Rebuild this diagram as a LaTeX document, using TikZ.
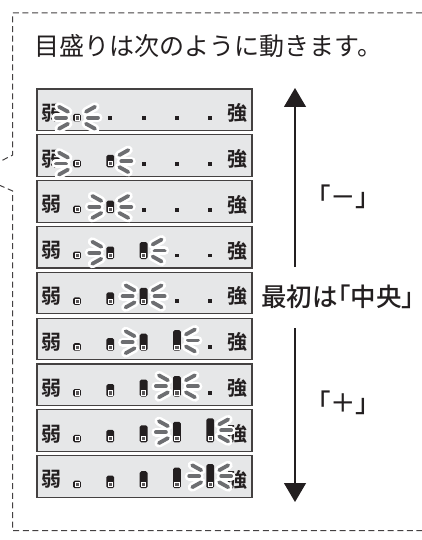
\documentclass[tikz,border=0pt]{standalone}
\usepackage{fontspec}
\setmainfont{Noto Sans CJK JP}
\newfontfamily\jpbold{Noto Sans CJK JP Bold}
\newfontfamily\jpmed[RawFeature=+palt]{Noto Sans CJK JP Medium}
\usetikzlibrary{arrows.meta, positioning}
\definecolor{ink}{HTML}{231F20}
\definecolor{panelgray}{HTML}{E6E7E8}
\definecolor{raygray}{HTML}{6D6E71}
\def\mh{{7.5,12.5,17,20.5,24}}
% one side of the flashing rays: style, x, y, side (-1 left, 1 right)
\newcommand{\flashside}[4]{%
  \foreach \a/\c/\d/\e in {11/0/21/0, 9/-6/18/-11, 9/6/18/11}
    \draw[#1] ({#2+(#4)*\a},{#3+\c}) -- ({#2+(#4)*\d},{#3+\e});}

\begin{document}
\begin{tikzpicture}[x=1pt, y=-1pt, >={Triangle[width=22pt, length=19pt]},
  panel/.style={draw=ink!85, line width=1.1pt, fill=panelgray, minimum width=215pt, minimum height=41.5pt, inner sep=0pt},
  lvl/.style={text=ink, font=\jpbold\fontsize{20}{20}\selectfont, inner sep=0pt},
  lbl/.style={text=ink, font=\jpmed\fontsize{25.5}{25.5}\selectfont, inner sep=0pt, anchor=west},
  bar/.style={fill=ink, rounded corners=1.6pt},
  halo/.style={white, line width=9pt, line cap=round},
  ray/.style={raygray, line width=3.8pt, line cap=round},
  frame/.style={ink!85, line width=1pt, dash pattern=on 6pt off 3.6pt}]
\useasboundingbox (0,0) rectangle (422,540);
\draw[frame] (422,13) -- (12.7,13) -- (12.7,155) -- (-1,162);
\draw[frame] (-1,185) -- (12.7,191) -- (12.7,530.7) -- (422,530.7);
\node[lbl, font=\fontsize{25}{25}\selectfont] (title) at (34.5,46) {目盛りは次のように動きます。};
% rows: row / lit bars / left flash position (right flash = lit bars)
\foreach \k/\n/\l in {1/1/1, 2/2/1, 3/2/2, 4/3/2, 5/3/3, 6/4/3, 7/4/4, 8/5/4, 9/5/5} {
  \pgfmathsetmacro\t{89+(\k-1)*45.84}
  \pgfmathsetmacro\b{\t+32.5}
  \node[panel] (p\k) at (144.5,\t+20.75) {};
  \node[lvl] (weak\k) at (51.5,\t+24) {弱};
  \node[lvl] (strong\k) at (237.5,\t+24) {強};
  \foreach \j in {1,...,5} {
    \pgfmathsetmacro\x{77+(\j-1)*33.3}
    \pgfmathsetmacro\h{\mh[\j-1]}
    \ifnum\j>\n
      \fill[ink] (\x-1.9,\b-1.6) rectangle (\x+1.9,\b-5.4);
    \else
      \fill[bar] (\x-3.9,\b) rectangle (\x+3.9,\b-\h);
      \filldraw[draw=white, line width=0.75pt, fill=ink!75] (\x-2.1,\b-1.6) rectangle (\x+2.1,\b-5.8);
    \fi
  }
  \pgfmathsetmacro\xl{77+(\l-1)*33.3}
  \pgfmathsetmacro\yl{\b-\mh[\l-1]/2}
  \pgfmathsetmacro\xr{77+(\n-1)*33.3}
  \pgfmathsetmacro\yr{\b-\mh[\n-1]/2}
  \flashside{halo}{\xl}{\yl}{-1} \flashside{halo}{\xr}{\yr}{1}
  \flashside{ray}{\xl}{\yl}{-1} \flashside{ray}{\xr}{\yr}{1}
}
\coordinate (uptip) at (295,88);
\coordinate (upfoot) at (295,267);
\coordinate (downfoot) at (295,328);
\coordinate (downtip) at (295,502);
\draw[->, ink, line width=1.2pt] (upfoot) -- (uptip);
\draw[->, ink, line width=1.2pt] (downfoot) -- (downtip);
\node[lbl] (minus) at (317.5,197) {「－」};
\node[lbl, right=8.5pt of p5, yshift=-4pt] (start) {最初は「中央」};
\node[lbl] (plus) at (317.5,403) {「＋」};
\end{tikzpicture}
\end{document}
